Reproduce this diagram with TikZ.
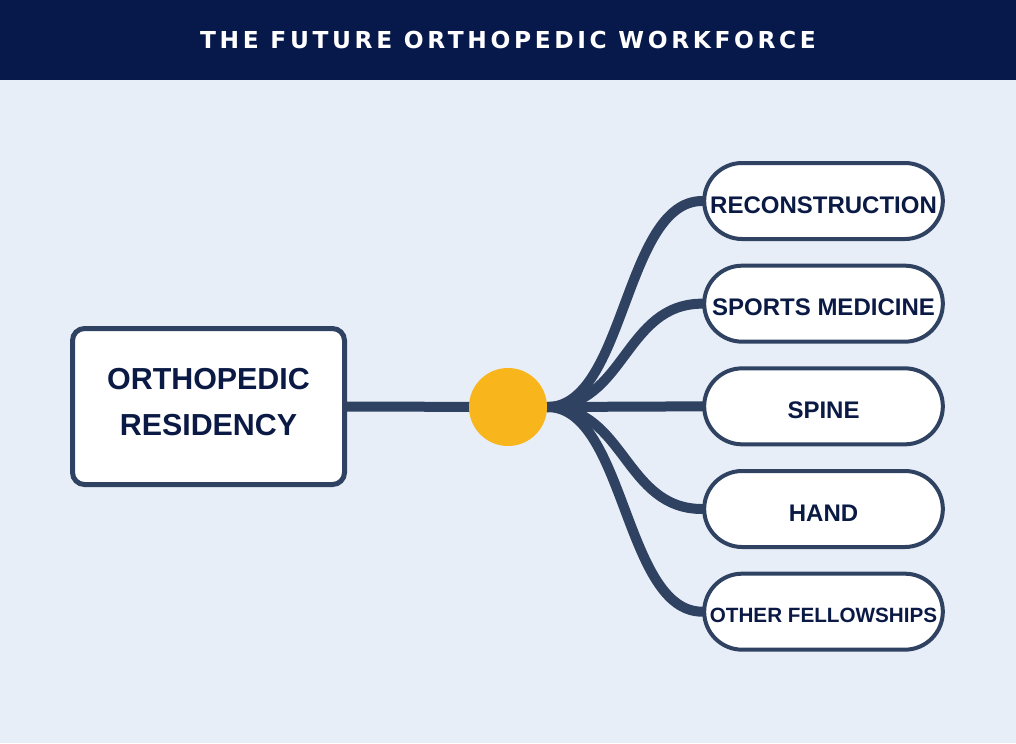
\documentclass[tikz,border=0pt]{standalone}
\usepackage{fontspec}
\setmainfont{Liberation Sans}
\newfontfamily\titlefont[LetterSpace=15.5]{DejaVu Sans}
\usetikzlibrary{positioning,backgrounds}
\definecolor{navy}{HTML}{07194B}
\definecolor{paper}{HTML}{E8EEF7}
\definecolor{edge}{HTML}{2F4262}
\definecolor{ink}{HTML}{0B1A45}
\definecolor{gold}{HTML}{F8B51C}

\begin{document}
\begin{tikzpicture}[x=0.75pt,y=-0.75pt,
    block/.style={rectangle, draw=edge, line width=3.75pt, fill=white, rounded corners=9pt,
                  minimum width=204pt, minimum height=117pt, align=center, text=ink,
                  text depth=7pt, font=\bfseries\fontsize{22.8}{35}\selectfont},
    pill/.style={rectangle, draw=edge, line width=3pt, fill=white, rounded corners=28.5pt,
                 minimum width=179pt, minimum height=57pt, inner sep=2pt, text=ink,
                 text height=18pt, text depth=0pt, font=\bfseries\fontsize{18}{20}\selectfont},
    limb/.style={draw=edge, line width=7.5pt, line cap=round}]

  \begin{scope}[on background layer]
    \fill[paper] (0,0) rectangle (1016,743);
    \fill[navy] (0,0) rectangle (1016,80);
  \end{scope}

  \node[text=white, font=\titlefont\bfseries\fontsize{17.5}{19}\selectfont] (title) at (508,40) {THE FUTURE ORTHOPEDIC WORKFORCE};

  \node[block] (res) at (208.5,406.5) {ORTHOPEDIC\\RESIDENCY};
  \node[circle, fill=gold, minimum size=58.5pt, inner sep=0pt] (hub) at (508,407) {};

  \node[pill] (rec) at (823.5,201) {RECONSTRUCTION};
  \node[pill, below=17pt of rec] (spo) {SPORTS MEDICINE};
  \node[pill, below=17pt of spo] (spi) {SPINE};
  \node[pill, below=17pt of spi] (han) {HAND};
  \node[pill, below=17pt of han, text height=16pt, font=\bfseries\fontsize{15.5}{18}\selectfont] (oth) {OTHER FELLOWSHIPS};

  \begin{scope}[on background layer]
    \draw[limb] (res.east) -- (hub.center);
    \foreach \n in {rec,spo,spi,han,oth}
      \draw[limb] (hub.east) .. controls +(78,0) and +(-78,0) .. (\n.west);
  \end{scope}
\end{tikzpicture}
\end{document}
